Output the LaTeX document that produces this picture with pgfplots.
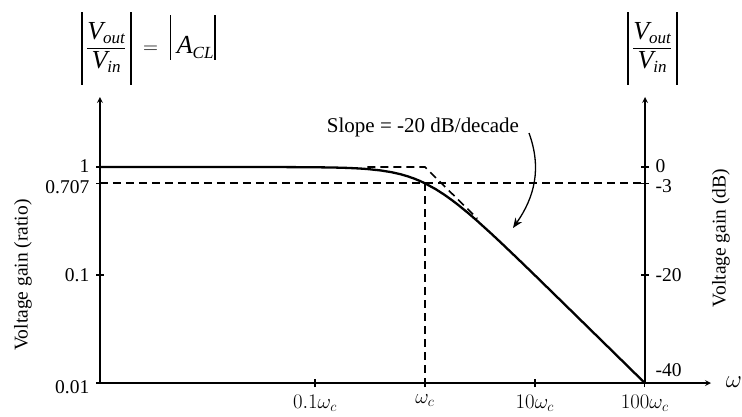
\documentclass[border=0pt]{standalone}
\usepackage{fontspec}
\setmainfont{Liberation Serif}
\usepackage{amsmath}
\usepackage{pgfplots}
\pgfplotsset{compat=1.18}
\usetikzlibrary{arrows.meta}
\newcommand\bigV{\text{\fontsize{26}{26}\selectfont\itshape V}}
\newcommand\subt[1]{\text{\fontsize{17}{17}\selectfont\itshape #1}}
\newcommand\vfrac{\rule[-31pt]{1.5pt}{73pt}\,\dfrac{\bigV_{\subt{out}}}{\bigV_{\subt{in}}}\,\rule[-31pt]{1.5pt}{73pt}}
\newcommand\lowered[2]{\raisebox{-#1}[0.68em][0pt]{#2}}

\begin{document}
\fontsize{19.5}{23}\selectfont
\begin{tikzpicture}[x=1pt,y=1pt,font=\fontsize{19.5}{23}\selectfont]
\useasboundingbox (0,0) rectangle (742,416);
\pgfplotsset{
  every axis/.append style={
    scale only axis, clip=false,
    at={(100pt,33pt)}, anchor=south west,
    tick align=inside, major tick length=8pt,
    tick style={line width=1.3pt, black},
    minor tick style={draw=none},
    axis line style={line width=1.6pt, -{Stealth[length=11pt,width=8pt]}},
    tick label style={font=\fontsize{19.5}{23}\selectfont},
  },
  dsh/.style={line width=1.6pt, dash pattern=on 8pt off 5pt},
}
% main (ratio) axis
\begin{axis}[
  width=611pt, height=286pt,
  xmode=log, ymode=log,
  xmin=0.001109, xmax=400, ymin=0.01, ymax=4.45,
  axis lines=left,
  xtick={0.1,1,10,100},
  xticklabels={$0.1\omega_c$, $\omega_c$, $10\omega_c$, $100\omega_c$},
  ytick={0.01,0.1,0.707,1},
  yticklabels={\lowered{4pt}{0.01},0.1,\lowered{4pt}{0.707},\lowered{-1pt}{1}},
  xticklabel style={yshift=-1pt, font=\fontsize{20.5}{23}\selectfont},
]
\addplot[line width=2.3pt, line join=round] coordinates {
 (0.001109,1) (0.05,0.9988) (0.1,0.995) (0.15,0.9889) (0.2,0.9806) (0.25,0.9701)
 (0.3,0.9578) (0.4,0.9285) (0.5,0.8944) (0.6,0.8575) (0.7,0.8192) (0.8,0.7809)
 (0.9,0.7433) (1,0.7071) (1.25,0.6247) (1.5,0.5547) (1.75,0.4961) (2,0.4472)
 (2.5,0.3714) (3,0.3162) (4,0.2425) (5,0.1961) (7,0.1414) (10,0.0995)
 (20,0.0499) (50,0.0200) (100,0.0100)};
\addplot[dsh] coordinates {(0.3,1) (1,1) (3,0.3333)};
\addplot[dsh] coordinates {(0.001109,0.7071) (100,0.7071)};
\addplot[dsh] coordinates {(1,0.7071) (1,0.01)};
\end{axis}
% right (dB) axis
\begin{axis}[
  width=545pt, height=286pt,
  xmode=log, xmin=0.001109, xmax=100, ymin=-40, ymax=12.96,
  axis x line=none, axis y line=right,
  ytick={-20,-3,0}, yticklabels={-20,\lowered{3pt}{-3},\lowered{-1pt}{0}},
  extra y ticks={-40}, extra y tick labels={-40},
  extra y tick style={yticklabel style={yshift=13pt}},
  yticklabel style={anchor=west},
]
\addplot[draw=none] coordinates {(1,0)};
\end{axis}
% labels
\node[rotate=90] at (23,141) {Voltage gain (ratio)};
\node[rotate=90] at (721,178) {Voltage gain (dB)};
\node at (734,34) {\fontsize{24}{24}\selectfont$\omega$};
\node at (423,289) {\fontsize{21}{24}\selectfont Slope = -20 dB/decade};
\draw[line width=1.3pt, -{Stealth[length=10pt,width=8pt]}] (529,283) to[out=-70,in=55] (513,188);
\node[inner sep=0pt, anchor=base west] at (81,362) {$\vfrac \;=\; \rule[-6pt]{1.5pt}{45pt}\;\text{\fontsize{26}{26}\selectfont\itshape A}_{\subt{CL}}\rule[-6pt]{1.5pt}{45pt}$};
\node[inner sep=0pt, anchor=base west] at (627,362) {$\vfrac$};
\end{tikzpicture}
\end{document}
